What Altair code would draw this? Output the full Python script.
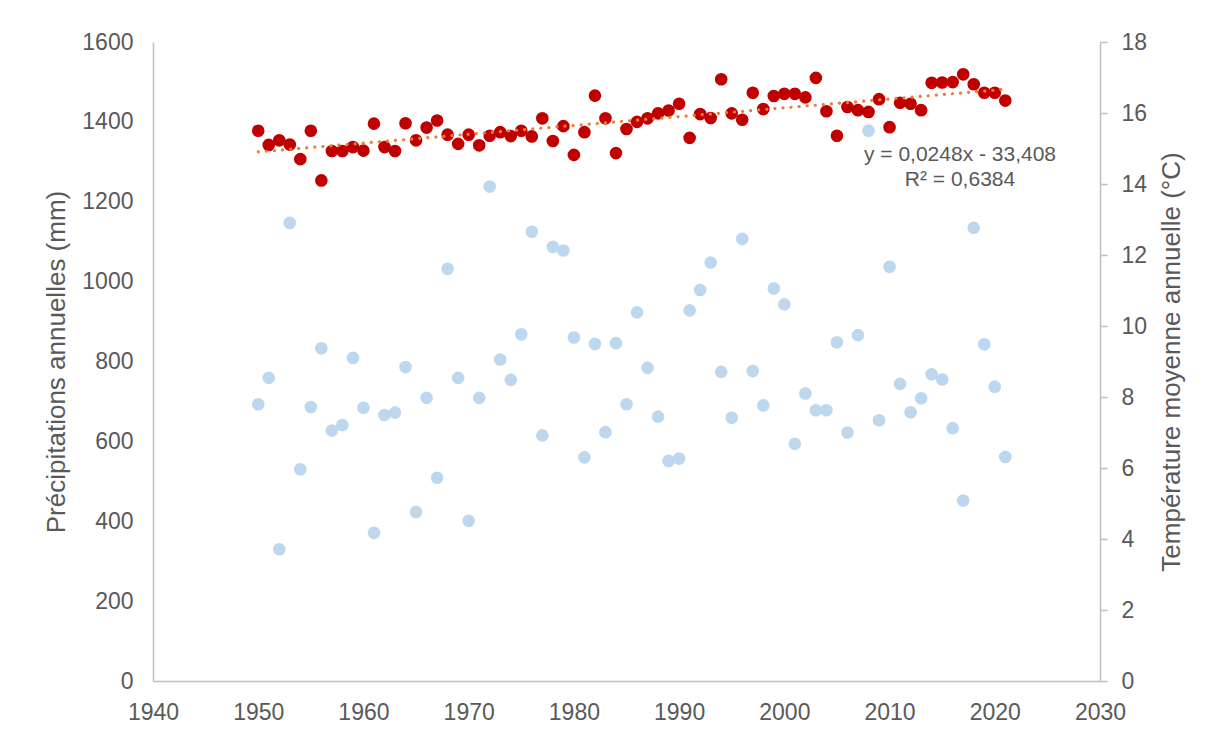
import altair as alt
import pandas as pd

years = list(range(1950, 2022))

precip_mm = [693, 759, 330, 1147, 530, 686, 833, 627, 641, 809,
             684, 371, 666, 672, 786, 423, 709, 509, 1032, 759,
             401, 709, 1238, 805, 754, 868, 1125, 615, 1087, 1078,
             860, 560, 844, 623, 846, 693, 923, 784, 662, 551,
             557, 928, 979, 1048, 774, 659, 1107, 776, 690, 983,
             943, 594, 720, 678, 678, 848, 622, 866, 1378, 653,
             1037, 744, 673, 708, 768, 755, 633, 452, 1135, 843,
             737, 561]

temp_c = [15.50, 15.10, 15.23, 15.11, 14.70, 15.50, 14.10, 14.93, 14.93, 15.04,
          14.94, 15.70, 15.04, 14.93, 15.71, 15.23, 15.59, 15.79, 15.39, 15.13,
          15.39, 15.09, 15.36, 15.46, 15.35, 15.50, 15.34, 15.85, 15.21, 15.63,
          14.82, 15.46, 16.49, 15.85, 14.87, 15.55, 15.75, 15.85, 15.99, 16.07,
          16.26, 15.30, 15.97, 15.86, 16.95, 15.99, 15.81, 16.57, 16.11, 16.48,
          16.54, 16.54, 16.44, 16.99, 16.05, 15.36, 16.17, 16.08, 16.03, 16.39,
          15.60, 16.29, 16.26, 16.08, 16.85, 16.86, 16.87, 17.09, 16.81, 16.57,
          16.57, 16.35]

x_ticks = list(range(1940, 2031, 10))
left_ticks = list(range(0, 1601, 200))
right_ticks = list(range(0, 19, 2))

eq_lines = ["y = 0,0248x - 33,408", "R² = 0,6384"]

left_title = "Précipitations annuelles (mm)"
right_title = "Température moyenne annuelle (°C)"

df = pd.DataFrame({"year": years, "precip": precip_mm, "temp": temp_c})

FONT = "Liberation Sans"
TXT = "#595959"
AX = "#BFBFBF"

x_enc = alt.X(
    "year:Q",
    scale=alt.Scale(domain=[1940, 2030], nice=False, zero=False),
    axis=alt.Axis(values=x_ticks, format="d", title=None, ticks=False, grid=False,
                  labelFlush=False, labelOverlap=False,
                  labelPadding=20, labelFontSize=23, labelColor=TXT,
                  domainColor=AX, domainWidth=1.5, labelFont=FONT),
)

base = alt.Chart(df).encode(x=x_enc)

precip = base.mark_circle(size=160, color="#BDD7EE", opacity=1).encode(
    y=alt.Y("precip:Q",
            scale=alt.Scale(domain=[0, 1600], nice=False),
            axis=alt.Axis(orient="left", values=left_ticks, format="d", ticks=False, grid=False,
                          labelFlush=False,
                          title=left_title, titleFontSize=26, titleFontWeight="normal",
                          titleColor=TXT, titleFont=FONT, titlePadding=12,
                          labelPadding=20, labelFontSize=23, labelColor=TXT, labelFont=FONT,
                          domainColor=AX, domainWidth=1.5))
)

y_temp = alt.Y("temp:Q",
               scale=alt.Scale(domain=[0, 18], nice=False),
               axis=alt.Axis(orient="right", values=right_ticks, format="d", ticks=True, tickSize=7,
                             tickColor=AX, tickWidth=1.5, grid=False, labelFlush=False,
                             title=right_title, titleFontSize=26, titleFontWeight="normal",
                             titleColor=TXT, titleFont=FONT, titleAngle=270,
                             titleBaseline="top", titlePadding=12,
                             labelPadding=14, labelFontSize=23, labelColor=TXT, labelFont=FONT,
                             domainColor=AX, domainWidth=1.5))

temp = base.mark_circle(size=160, color="#C00000", opacity=1).encode(y=y_temp)

trend = base.transform_regression("year", "temp").mark_line(
    color="#ED7D31", strokeWidth=3.2, strokeDash=[0.1, 8], strokeCap="round"
).encode(y=alt.Y("temp:Q"))

eq_marks = []
for i, line in enumerate(eq_lines):
    eq_marks.append(
        alt.Chart(pd.DataFrame({"t": [line]})).mark_text(
            font=FONT, fontSize=21, color=TXT, align="center", baseline="middle"
        ).encode(text="t:N", x=alt.value(807), y=alt.value(113 + 25 * i))
    )

right_layer = alt.layer(temp, trend, *eq_marks)

chart = alt.layer(precip, right_layer).resolve_scale(y="independent").properties(
    width=947, height=639,
    background="white",
    autosize=alt.AutoSizeParams(type="none"),
    padding={"left": 145, "top": 34, "right": 90, "bottom": 45},
).configure_view(stroke="transparent", strokeWidth=0)

chart.save("out.html", embed_options={"renderer": "svg", "actions": False})
